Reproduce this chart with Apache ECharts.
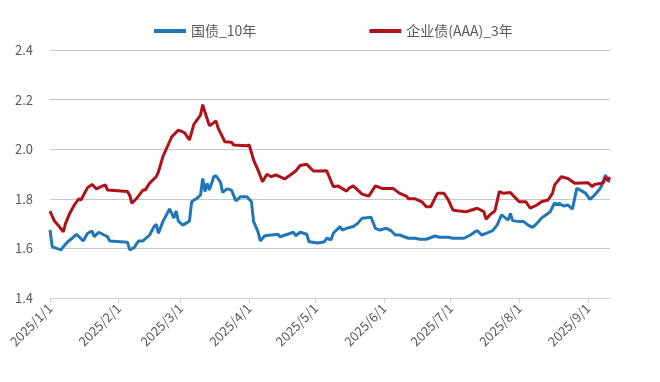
<!DOCTYPE html>
<html><head><meta charset="utf-8">
<script src="https://cdn.jsdelivr.net/npm/echarts@6/dist/echarts.min.js"></script>
<style>html,body{margin:0;padding:0;background:#fff}#c{width:660px;height:382px}</style>
</head><body><div id="c"></div>
<script>
var seriesNames = ['国债_10年', '企业债(AAA)_3年'];
var yTicks = [1.4, 1.6, 1.8, 2.0, 2.2, 2.4];
var govDates = ['2025-01-01','2025-01-02','2025-01-04','2025-01-06','2025-01-07','2025-01-09','2025-01-11','2025-01-13','2025-01-16','2025-01-18','2025-01-20','2025-01-21','2025-01-23','2025-01-27','2025-01-28','2025-02-05','2025-02-06','2025-02-08','2025-02-10','2025-02-12','2025-02-15','2025-02-17','2025-02-18','2025-02-19','2025-02-21','2025-02-24','2025-02-26','2025-02-27','2025-02-28','2025-03-02','2025-03-05','2025-03-06','2025-03-08','2025-03-10','2025-03-11','2025-03-12','2025-03-13','2025-03-14','2025-03-16','2025-03-17','2025-03-19','2025-03-20','2025-03-22','2025-03-24','2025-03-26','2025-03-28','2025-03-31','2025-04-02','2025-04-03','2025-04-05','2025-04-06','2025-04-08','2025-04-11','2025-04-14','2025-04-15','2025-04-21','2025-04-22','2025-04-24','2025-04-27','2025-04-28','2025-05-02','2025-05-05','2025-05-06','2025-05-08','2025-05-09','2025-05-12','2025-05-13','2025-05-15','2025-05-18','2025-05-20','2025-05-22','2025-05-26','2025-05-28','2025-05-30','2025-06-02','2025-06-04','2025-06-06','2025-06-08','2025-06-10','2025-06-12','2025-06-15','2025-06-17','2025-06-20','2025-06-24','2025-06-26','2025-06-30','2025-07-02','2025-07-07','2025-07-10','2025-07-12','2025-07-13','2025-07-15','2025-07-17','2025-07-20','2025-07-22','2025-07-24','2025-07-25','2025-07-27','2025-07-28','2025-07-29','2025-08-01','2025-08-03','2025-08-05','2025-08-07','2025-08-09','2025-08-11','2025-08-13','2025-08-15','2025-08-17','2025-08-18','2025-08-19','2025-08-21','2025-08-23','2025-08-25','2025-08-27','2025-08-29','2025-08-31','2025-09-02','2025-09-04','2025-09-06','2025-09-07','2025-09-09','2025-09-10','2025-09-11'];
var govValues = [1.674,1.607,1.600,1.594,1.607,1.627,1.641,1.657,1.630,1.661,1.670,1.647,1.665,1.647,1.630,1.625,1.594,1.603,1.630,1.630,1.654,1.688,1.697,1.661,1.708,1.759,1.722,1.751,1.710,1.694,1.710,1.788,1.800,1.815,1.882,1.829,1.862,1.835,1.889,1.893,1.867,1.826,1.840,1.835,1.791,1.808,1.808,1.788,1.708,1.667,1.630,1.651,1.654,1.657,1.647,1.665,1.651,1.665,1.657,1.627,1.622,1.627,1.641,1.635,1.661,1.688,1.674,1.681,1.688,1.701,1.722,1.726,1.681,1.674,1.681,1.672,1.654,1.654,1.647,1.641,1.641,1.637,1.637,1.650,1.645,1.645,1.641,1.641,1.654,1.667,1.672,1.654,1.661,1.672,1.694,1.735,1.728,1.714,1.741,1.712,1.708,1.708,1.694,1.685,1.701,1.722,1.735,1.748,1.784,1.775,1.782,1.771,1.775,1.758,1.842,1.833,1.822,1.798,1.815,1.835,1.849,1.896,1.873,1.869];
var corpDates = ['2025-01-01','2025-01-03','2025-01-05','2025-01-07','2025-01-08','2025-01-10','2025-01-12','2025-01-14','2025-01-15','2025-01-17','2025-01-18','2025-01-20','2025-01-22','2025-01-24','2025-01-26','2025-01-27','2025-02-05','2025-02-06','2025-02-07','2025-02-09','2025-02-12','2025-02-13','2025-02-15','2025-02-18','2025-02-19','2025-02-21','2025-02-24','2025-02-25','2025-02-28','2025-03-02','2025-03-03','2025-03-05','2025-03-07','2025-03-09','2025-03-10','2025-03-11','2025-03-12','2025-03-14','2025-03-15','2025-03-17','2025-03-18','2025-03-21','2025-03-24','2025-03-25','2025-03-31','2025-04-01','2025-04-03','2025-04-05','2025-04-07','2025-04-09','2025-04-11','2025-04-13','2025-04-17','2025-04-20','2025-04-22','2025-04-24','2025-04-27','2025-04-30','2025-05-03','2025-05-06','2025-05-09','2025-05-11','2025-05-15','2025-05-16','2025-05-18','2025-05-22','2025-05-25','2025-05-28','2025-05-31','2025-06-05','2025-06-08','2025-06-11','2025-06-12','2025-06-15','2025-06-18','2025-06-20','2025-06-22','2025-06-25','2025-06-28','2025-06-30','2025-07-02','2025-07-04','2025-07-08','2025-07-13','2025-07-16','2025-07-17','2025-07-19','2025-07-21','2025-07-23','2025-07-25','2025-07-28','2025-08-01','2025-08-04','2025-08-06','2025-08-09','2025-08-11','2025-08-14','2025-08-16','2025-08-17','2025-08-20','2025-08-23','2025-08-26','2025-09-01','2025-09-03','2025-09-04','2025-09-07','2025-09-08','2025-09-09','2025-09-10','2025-09-11'];
var corpValues = [1.750,1.710,1.690,1.667,1.700,1.743,1.775,1.800,1.795,1.829,1.845,1.858,1.840,1.849,1.856,1.835,1.829,1.815,1.782,1.800,1.835,1.835,1.863,1.889,1.909,1.970,2.030,2.050,2.077,2.070,2.064,2.037,2.100,2.125,2.138,2.180,2.150,2.095,2.100,2.114,2.084,2.030,2.028,2.017,2.014,2.017,1.956,1.916,1.869,1.899,1.889,1.896,1.880,1.899,1.912,1.934,1.939,1.912,1.912,1.913,1.849,1.852,1.831,1.842,1.852,1.819,1.811,1.852,1.842,1.842,1.822,1.811,1.800,1.800,1.788,1.768,1.768,1.822,1.822,1.795,1.755,1.752,1.748,1.762,1.748,1.718,1.738,1.751,1.829,1.822,1.825,1.788,1.788,1.762,1.775,1.788,1.795,1.822,1.856,1.889,1.882,1.863,1.865,1.849,1.858,1.863,1.865,1.887,1.876,1.887];

function pair(d, v) { return d.map(function (x, i) { return [x, v[i]]; }); }
var chart = echarts.init(document.getElementById('c'));
var lblColor = '#595959';
var font = '"Noto Sans CJK SC", "Noto Sans", sans-serif';
chart.setOption({
  animation: false,
  textStyle: { fontFamily: font },
  legend: {
    data: seriesNames, top: 19, left: 149, itemGap: 113,
    itemWidth: 32, itemHeight: 4, icon: 'rect',
    textStyle: { color: lblColor, fontSize: 14, fontFamily: font }
  },
  grid: { left: 50, right: 50, top: 50, bottom: 84 },
  xAxis: {
    type: 'time', min: '2025-01-01', max: '2025-09-11',
    minInterval: 28 * 86400000, maxInterval: 31 * 86400000,
    axisLine: { lineStyle: { color: '#d0d0d0', width: 1 } },
    axisTick: { show: true, length: 5, lineStyle: { color: '#d0d0d0' } },
    splitLine: { show: false },
    axisLabel: {
      rotate: 45, color: lblColor, fontSize: 13, fontFamily: font, margin: 8,
      showMinLabel: true, showMaxLabel: false,
      formatter: function (v) { var d = new Date(v); return d.getFullYear() + '/' + (d.getMonth() + 1) + '/' + d.getDate(); }
    }
  },
  yAxis: {
    type: 'value', min: yTicks[0], max: yTicks[yTicks.length - 1], interval: 0.2,
    axisLine: { show: false }, axisTick: { show: false },
    splitLine: { lineStyle: { color: '#c8c8c8', width: 1 } },
    axisLabel: { color: lblColor, fontSize: 13, fontFamily: font, margin: 17,
      formatter: function (v) { return v.toFixed(1); } }
  },
  series: [
    { name: seriesNames[0], type: 'line', data: pair(govDates, govValues), showSymbol: false,
      lineStyle: { width: 3, color: '#1F77B8' }, itemStyle: { color: '#1F77B8' } },
    { name: seriesNames[1], type: 'line', data: pair(corpDates, corpValues), showSymbol: false,
      lineStyle: { width: 3, color: '#B0121A' }, itemStyle: { color: '#B0121A' } }
  ]
});
</script></body></html>
